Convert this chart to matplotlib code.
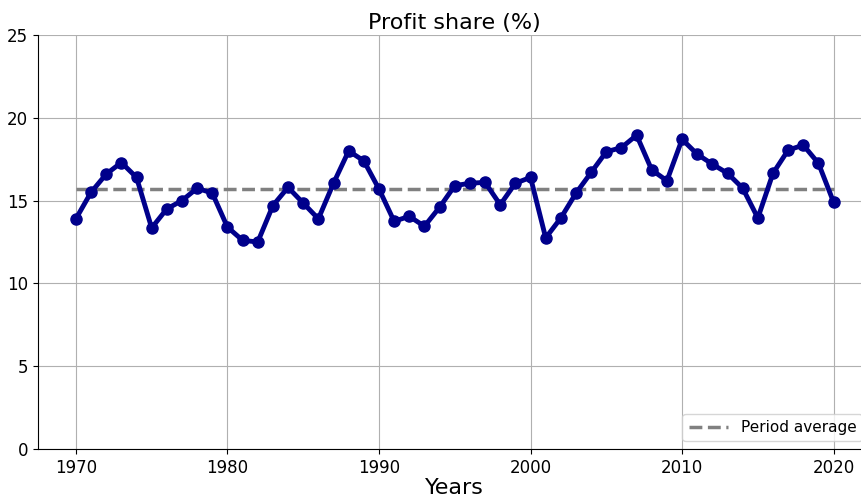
import matplotlib
matplotlib.use("Agg")
import matplotlib.pyplot as plt
import numpy as np

years = list(range(1970, 2021))
profit_share = [13.9, 15.5, 16.6, 17.3, 16.4, 13.35, 14.5, 15.0, 15.75, 15.45,
                13.4, 12.6, 12.5, 14.7, 15.8, 14.85, 13.9, 16.05, 18.0, 17.4,
                15.7, 13.75, 14.05, 13.45, 14.6, 15.9, 16.05, 16.1, 14.75, 16.05,
                16.4, 12.75, 13.95, 15.45, 16.7, 17.95, 18.2, 18.95, 16.85, 16.2,
                18.7, 17.8, 17.2, 16.65, 15.75, 13.95, 16.65, 18.05, 18.35, 17.25,
                14.9]
period_average = float(np.mean(profit_share))

fig = plt.figure(figsize=(8.61, 4.98), dpi=100)
ax = fig.add_axes([38/861, 1 - 449/498, (870 - 38)/861, (449 - 35)/498])
ax.plot(years, profit_share, color="darkblue", linewidth=3.5, marker="o", markersize=8, zorder=3)
ax.plot(years, [period_average]*len(years), color="grey", linestyle="--", linewidth=2.5,
        label="Period average", zorder=2)
ax.set_xlim(1967.5, 2022.4)
ax.set_ylim(0, 25)
ax.set_yticks([0, 5, 10, 15, 20, 25])
ax.set_xticks([1970, 1980, 1990, 2000, 2010, 2020])
ax.grid(True, color="#b0b0b0", linewidth=0.8)
ax.set_axisbelow(True)
ax.spines["top"].set_visible(False)
ax.spines["right"].set_visible(False)
ax.tick_params(labelsize=12)
ax.set_title("Profit share (%)", fontsize=16, pad=4)
ax.set_xlabel("Years", fontsize=16, labelpad=1)
ax.legend(loc="lower right", fontsize=11, handlelength=2.6)
fig.savefig("out.png", dpi=100)
